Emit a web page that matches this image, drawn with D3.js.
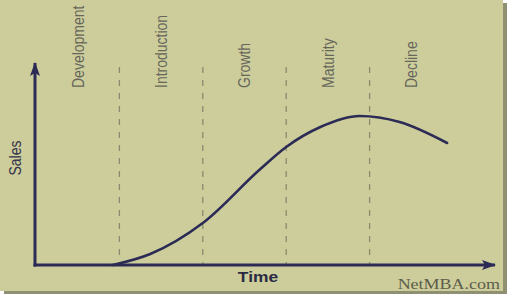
<!DOCTYPE html>
<html>
<head>
<meta charset="utf-8">
<script src="https://cdn.jsdelivr.net/npm/d3@7"></script>
<style>
  body { margin: 0; background: #fff; }
  svg { display: block; }
</style>
</head>
<body>
<script>
// product life cycle - stages, and the sales curve
var stages = ["Development", "Introduction", "Growth", "Maturity", "Decline"];
var time  = [0.92, 1.37, 2.0, 2.69, 3.0, 3.41, 3.88, 4.36, 4.93];
var sales = [0, 5.5, 21, 48, 59, 69, 74.5, 71.5, 61];

var width = 507, height = 294;
var ink = "#2b2b55";

const svg = d3.select("body")
    .append("svg")
    .attr("width", width)
    .attr("height", height);

// frame + shadow
svg.append("rect")
    .attr("x", 4).attr("y", 3)
    .attr("width", width - 4).attr("height", height - 3)
    .attr("fill", "#8f8f72");
svg.append("rect")
    .attr("x", 0).attr("y", 0)
    .attr("width", width - 4).attr("height", height - 3)
    .attr("fill", "#cdcd9c");

var xscale = d3.scaleLinear().domain([0, 5]).range([36, 453]);
var yscale = d3.scaleLinear().domain([0, 100]).range([265, 65]);

// arrow marker
svg.append("defs").append("marker")
    .attr("id", "arrow")
    .attr("viewBox", "0 -6 14 12")
    .attr("refX", 13).attr("refY", 0)
    .attr("markerWidth", 14).attr("markerHeight", 12)
    .attr("markerUnits", "userSpaceOnUse")
    .attr("orient", "auto")
    .append("path")
    .attr("d", "M0,-5L14,0L0,5L3,0Z")
    .attr("fill", ink);

// dashed stage dividers
svg.append("g")
    .selectAll("line")
    .data(d3.range(1, stages.length))
    .join("line")
    .attr("x1", d => xscale(d)).attr("x2", d => xscale(d))
    .attr("y1", yscale(99)).attr("y2", yscale(0))
    .attr("stroke", "#8a8a6e")
    .attr("stroke-width", 1.3)
    .attr("stroke-dasharray", "6,7");

// stage labels (rotated)
svg.append("g")
    .selectAll("text")
    .data(stages)
    .join("text")
    .attr("transform", (d, i) => `translate(${xscale(i + 0.5)},88) scale(1.2,1) rotate(-90)`)
    .attr("dy", "0.35em")
    .attr("font-family", "'Liberation Sans', Arial, sans-serif")
    .attr("font-size", 14)
    .attr("fill", "#66665a")
    .text(d => d);

// axes
svg.append("line")
    .attr("x1", xscale(0) - 1).attr("y1", yscale(0) + 1.5)
    .attr("x2", xscale(0) - 1).attr("y2", 63)
    .attr("stroke", ink).attr("stroke-width", 3)
    .attr("marker-end", "url(#arrow)");
svg.append("line")
    .attr("x1", xscale(0) - 2.5).attr("y1", yscale(0))
    .attr("x2", 495).attr("y2", yscale(0))
    .attr("stroke", ink).attr("stroke-width", 3)
    .attr("marker-end", "url(#arrow)");

// sales curve
var line = d3.line()
    .x((d, i) => xscale(time[i]))
    .y(d => yscale(d))
    .curve(d3.curveMonotoneX);

svg.append("path")
    .datum(sales)
    .attr("fill", "none")
    .attr("stroke", ink)
    .attr("stroke-width", 2.6)
    .attr("stroke-linecap", "round")
    .attr("d", line);

// axis titles
svg.append("text")
    .attr("transform", "translate(15,158) scale(1.2,1) rotate(-90)")
    .attr("text-anchor", "middle")
    .attr("dy", "0.35em")
    .attr("font-family", "'Liberation Sans', Arial, sans-serif")
    .attr("font-size", 14)
    .attr("fill", "#33334a")
    .text("Sales");

svg.append("text")
    .attr("transform", "translate(258,282) scale(1.2,1)")
    .attr("text-anchor", "middle")
    .attr("font-family", "'Liberation Sans', Arial, sans-serif")
    .attr("font-weight", "bold")
    .attr("font-size", 14.5)
    .attr("fill", "#2a2a44")
    .text("Time");

svg.append("text")
    .attr("transform", "translate(500,289) scale(1.2,1)")
    .attr("text-anchor", "end")
    .attr("font-family", "'Liberation Serif', 'Times New Roman', serif")
    .attr("font-size", 15)
    .attr("fill", "#5c5c4a")
    .text("NetMBA.com");
</script>
</body>
</html>
